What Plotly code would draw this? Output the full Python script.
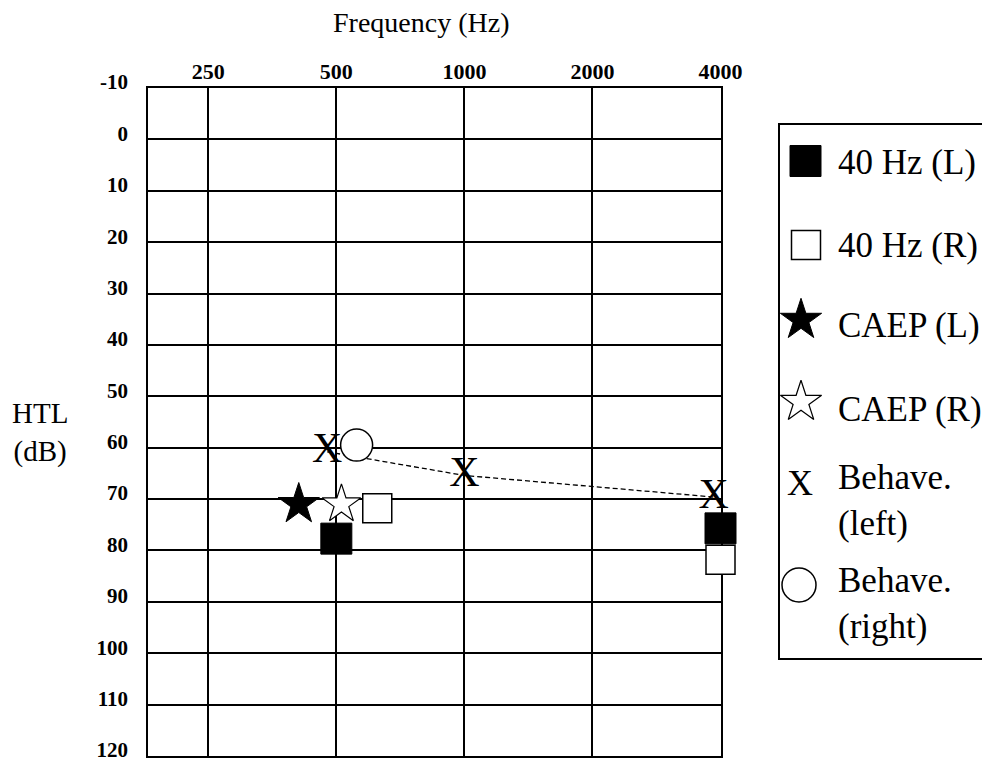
import math
import plotly.graph_objects as go

# ---------------- data ----------------
freq_tick_vals = [250, 500, 1000, 2000, 4000]
freq_tick_text = ["250", "500", "1000", "2000", "4000"]
htl_tick_vals = list(range(-10, 121, 10))
htl_tick_text = [str(v) for v in htl_tick_vals]

hz40_left_hz = [500, 4000]
hz40_left_db = [77.7, 75.7]

hz40_right_hz = [624, 4000]
hz40_right_db = [71.8, 81.8]

caep_left_hz = [408]
caep_left_db = [71.0]

caep_right_hz = [514]
caep_right_db = [71.0]

behave_left_hz = [476, 1000, 3855]
behave_left_db = [60.8, 65.4, 69.6]

behave_right_hz = [558, 4516]
behave_right_db = [59.5, 69.7]

legend_labels = ["40 Hz (L)", "40 Hz (R)", "CAEP (L)", "CAEP (R)",
                 "Behave.<br>(left)", "Behave.<br>(right)"]

# ---------------- styling / layout ----------------
OFF = 8                      # page body margin of the html page
W, H = 990 - OFF, 762 - OFF  # figure size so it fits in the window
FONT = "Liberation Serif"
LW = 1.5

# target positions in window pixels
PL, PR, PT, PB = 148, 720.5, 88, 756     # plot area
LL, LR, LT, LB = 780, 988, 125, 658      # legend box


def px_x(p):
    return (p - OFF) / W


def px_y(p):
    return 1 - (p - OFF) / H


X_MIN_HZ = 180.4

fig = go.Figure()

# dashed line joining behavioural (left) thresholds
fig.add_trace(go.Scatter(x=behave_left_hz, y=behave_left_db, mode="lines",
                         line=dict(color="black", width=1.3, dash="5px,3px"),
                         hoverinfo="skip", showlegend=False, cliponaxis=False))

fig.add_trace(go.Scatter(x=hz40_left_hz, y=hz40_left_db, mode="markers", name="40 Hz (L)",
                         marker=dict(symbol="square", size=31, color="black",
                                     line=dict(color="black", width=1)),
                         showlegend=False, cliponaxis=False))
fig.add_trace(go.Scatter(x=hz40_right_hz, y=hz40_right_db, mode="markers", name="40 Hz (R)",
                         marker=dict(symbol="square", size=29, color="white",
                                     line=dict(color="black", width=LW)),
                         showlegend=False, cliponaxis=False))
fig.add_trace(go.Scatter(x=caep_left_hz, y=caep_left_db, mode="markers", name="CAEP (L)",
                         marker=dict(symbol="star", size=31, color="black",
                                     line=dict(color="black", width=1)),
                         showlegend=False, cliponaxis=False))
fig.add_trace(go.Scatter(x=caep_right_hz, y=caep_right_db, mode="markers", name="CAEP (R)",
                         marker=dict(symbol="star", size=29, color="white",
                                     line=dict(color="black", width=1.2)),
                         showlegend=False, cliponaxis=False))
fig.add_trace(go.Scatter(x=behave_left_hz, y=behave_left_db, mode="text", name="Behave. (left)",
                         text=["X"] * len(behave_left_hz), textposition="middle center",
                         textfont=dict(family=FONT, size=42, color="black"),
                         showlegend=False, cliponaxis=False))
fig.add_trace(go.Scatter(x=behave_right_hz, y=behave_right_db, mode="markers", name="Behave. (right)",
                         marker=dict(symbol="circle", size=32, color="white",
                                     line=dict(color="black", width=LW)),
                         showlegend=False, cliponaxis=False))

# ---------------- hand-made legend on its own axes ----------------
leg_sym_x = [25.5, 26, 21, 21, 20, 19]
leg_sym_y = [36, 120, 195, 277, 361, 460]
leg_text_y = [37, 120, 200, 284, 375, 478]
leg_styles = [
    dict(symbol="square", size=31, color="black", line=dict(color="black", width=1)),
    dict(symbol="square", size=29, color="white", line=dict(color="black", width=LW)),
    dict(symbol="star", size=31, color="black", line=dict(color="black", width=1)),
    dict(symbol="star", size=31, color="white", line=dict(color="black", width=1.2)),
    None,
    dict(symbol="circle", size=34, color="white", line=dict(color="black", width=LW)),
]
for i, lab in enumerate(legend_labels):
    if leg_styles[i] is None:
        fig.add_trace(go.Scatter(x=[leg_sym_x[i]], y=[leg_sym_y[i]], mode="text", text=["X"],
                                 textfont=dict(family=FONT, size=36, color="black"),
                                 xaxis="x2", yaxis="y2", showlegend=False, hoverinfo="skip",
                                 cliponaxis=False))
    else:
        fig.add_trace(go.Scatter(x=[leg_sym_x[i]], y=[leg_sym_y[i]], mode="markers",
                                 marker=leg_styles[i], xaxis="x2", yaxis="y2",
                                 showlegend=False, hoverinfo="skip", cliponaxis=False))
    fig.add_annotation(x=56, y=leg_text_y[i], xref="x2", yref="y2", text=lab,
                       showarrow=False, xanchor="left", yanchor="middle", align="left",
                       font=dict(family=FONT, size=35, color="black"))

# ---------------- axes ----------------
fig.update_layout(
    width=W, height=H,
    margin=dict(l=0, r=0, t=0, b=0),
    paper_bgcolor="white", plot_bgcolor="white",
    font=dict(family=FONT, color="black"),
    xaxis=dict(
        type="log", domain=[px_x(PL), px_x(PR)],
        range=[math.log10(X_MIN_HZ), math.log10(4000)],
        side="top", tickmode="array", tickvals=freq_tick_vals, ticktext=freq_tick_text,
        ticks="", ticklabelstandoff=-2, ticklabeloverflow="allow",
        tickfont=dict(family=FONT, size=22, color="black", weight="bold"),
        showgrid=True, gridcolor="black", gridwidth=LW,
        showline=True, mirror=True, linecolor="black", linewidth=LW,
        zeroline=False, layer="below traces", automargin=False, fixedrange=True,
        anchor="y",
    ),
    yaxis=dict(
        domain=[px_y(PB), px_y(PT)],
        range=[120, -10],
        tickmode="array", tickvals=htl_tick_vals, ticktext=htl_tick_text,
        ticks="", ticklabelstandoff=14, ticklabelshift=6, ticklabeloverflow="allow",
        tickfont=dict(family=FONT, size=21, color="black", weight="bold"),
        showgrid=True, gridcolor="black", gridwidth=LW,
        showline=True, mirror=True, linecolor="black", linewidth=LW,
        zeroline=False, layer="below traces", automargin=False, fixedrange=True,
        anchor="x",
    ),
    xaxis2=dict(
        domain=[px_x(LL), px_x(LR)], range=[0, LR - LL], anchor="y2",
        showgrid=False, zeroline=False, showticklabels=False, ticks="",
        showline=True, mirror=True, linecolor="black", linewidth=LW, fixedrange=True,
    ),
    yaxis2=dict(
        domain=[px_y(LB), px_y(LT)], range=[LB - LT, 0], anchor="x2",
        showgrid=False, zeroline=False, showticklabels=False, ticks="",
        showline=True, mirror=True, linecolor="black", linewidth=LW, fixedrange=True,
    ),
)

# titles
fig.add_annotation(x=px_x(421), y=px_y(22), xref="paper", yref="paper",
                   text="Frequency (Hz)", showarrow=False, xanchor="center", yanchor="middle",
                   font=dict(family=FONT, size=28, color="black"))
fig.add_annotation(x=px_x(40), y=px_y(432), xref="paper", yref="paper",
                   text="HTL<br>(dB)", showarrow=False, xanchor="center", yanchor="middle",
                   align="center", font=dict(family=FONT, size=29, color="black"))

fig.write_html("out.html")
